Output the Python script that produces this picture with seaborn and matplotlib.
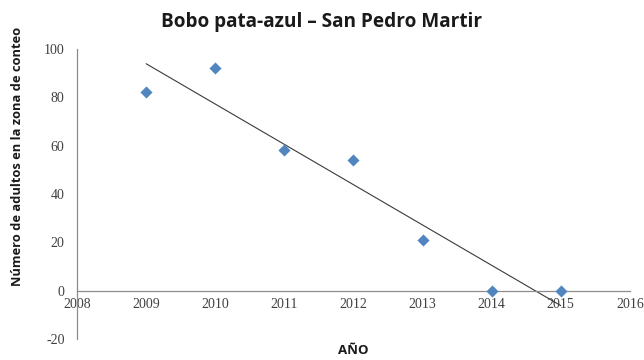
import matplotlib
matplotlib.use("Agg")
import matplotlib.pyplot as plt
import seaborn as sns
import pandas as pd

# Annual counts of adult blue-footed boobies
years = [2009, 2010, 2011, 2012, 2013, 2014, 2015]
adults = [82, 92, 58, 54, 21, 0, 0]
x_ticks = [2008, 2009, 2010, 2011, 2012, 2013, 2014, 2015, 2016]
y_ticks = [-20, 0, 20, 40, 60, 80, 100]

df = pd.DataFrame({"year": years, "adults": adults})

sns.set_style("white")
fig = plt.figure(figsize=(6.44, 3.6), dpi=100)
ax = fig.add_axes([0.1196, 0.0583, 0.8584, 0.8057])

# Linear trend over the observed years
sns.regplot(data=df, x="year", y="adults", ax=ax, scatter=False, ci=None,
            truncate=True, line_kws=dict(color="#3a3a3a", lw=0.8))
sns.scatterplot(data=df, x="year", y="adults", ax=ax, marker="D", s=38,
                color="#5085c0", edgecolor="#5085c0", linewidth=0, zorder=3)

ax.set_xlim(x_ticks[0], x_ticks[-1])
ax.set_ylim(y_ticks[0], y_ticks[-1])
ax.set_xticks(x_ticks)
ax.set_yticks(y_ticks)
ax.set_xticklabels([str(t) for t in x_ticks])
ax.set_yticklabels([str(t) for t in y_ticks])

for s in ("top", "right"):
    ax.spines[s].set_visible(False)
ax.spines["bottom"].set_position(("data", 0))
for s in ("left", "bottom"):
    ax.spines[s].set_color("#8c8c8c")
    ax.spines[s].set_linewidth(0.9)

ax.tick_params(axis="both", which="major", direction="out", length=3,
               width=0.8, color="#8c8c8c", labelcolor="#404040")
ax.tick_params(axis="x", pad=2)
ax.tick_params(axis="y", pad=6)
for lbl in ax.get_xticklabels() + ax.get_yticklabels():
    lbl.set_fontfamily("Liberation Serif")
    lbl.set_fontsize(10)

ax.set_xlabel("AÑO", fontsize=9.5, fontweight="bold", family="Open Sans",
              color="#1a1a1a", va="center")
ax.xaxis.set_label_coords(0.5, -0.04)
ax.set_ylabel("Número de adultos en la zona de conteo", fontsize=9.3,
              fontweight="bold", family="Open Sans", color="#1a1a1a")
ax.yaxis.set_label_coords(-0.096, 0.628)

fig.text(0.5, 0.94, "Bobo pata-azul – San Pedro Martir", ha="center",
         va="center", fontsize=13.7, fontweight="bold", family="Open Sans",
         color="#1a1a1a")

fig.savefig("out.png", dpi=100)
